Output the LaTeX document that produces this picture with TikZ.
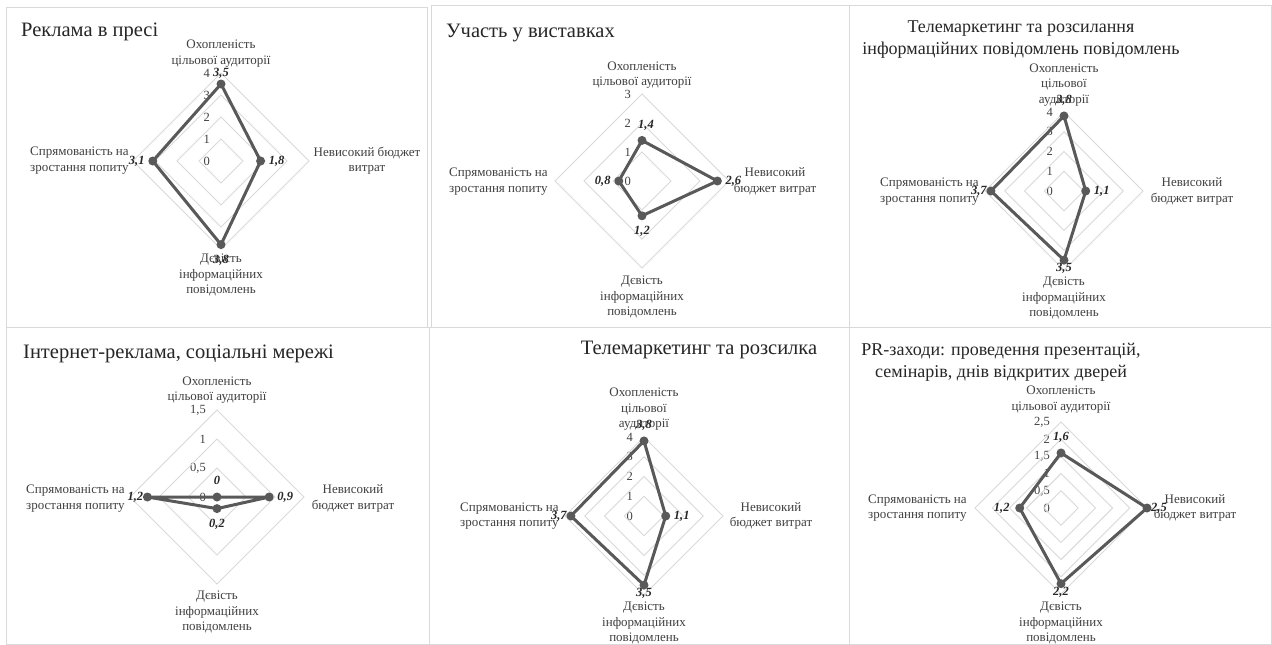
\documentclass[tikz,border=0pt]{standalone}
\usepackage{fontspec}
\setmainfont{Liberation Serif}
\definecolor{gridc}{HTML}{D9D9D9}
\definecolor{serc}{HTML}{595959}
\definecolor{txtc}{HTML}{404040}
\definecolor{datc}{HTML}{262626}
\tikzset{
  panelbox/.style={draw=gridc, line width=0.9pt},
  gridline/.style={draw=gridc, line width=0.9pt},
  tick/.style={anchor=east, inner sep=0pt, font=\fontsize{12.5}{14}\selectfont, text=txtc},
  cat/.style={align=center, inner sep=0pt, font=\fontsize{13}{15.5}\selectfont, text=txtc},
  catl/.style={align=left, anchor=west, inner sep=0pt, font=\fontsize{13}{15.5}\selectfont, text=txtc},
  ttl/.style={inner sep=0pt, font=\fontsize{18}{22}\selectfont, text=datc},
  ttlbig/.style={inner sep=0pt, font=\fontsize{20.5}{24}\selectfont, text=datc},
  ttlw/.style={ttlbig, anchor=west},
  mk/.style={circle, fill=serc, inner sep=0pt, minimum size=9pt},
  series/.style={draw=serc, line width=3pt, line join=round},
  dl/.style={inner sep=0pt, font=\fontsize{12.5}{14}\selectfont\bfseries\itshape, text=datc},
}
\newcommand{\radargrid}[2]{%
  \foreach \v/\t in {#2}{%
    \pgfmathsetmacro{\rr}{\v*#1}
    \ifdim\v pt>0pt \draw[gridline] (0,-\rr) -- (\rr,0) -- (0,\rr) -- (-\rr,0) -- cycle;\fi
    \node[tick] at (-11,-\rr) {\t};
  }}
% #1 prefix, #2 unit, #3 top, #4 right, #5 bottom, #6 left
\newcommand{\radardata}[6]{%
  \node[mk] (#1t) at (0,{-#3*#2}) {};
  \node[mk] (#1r) at ({#4*#2},0) {};
  \node[mk] (#1b) at (0,{#5*#2}) {};
  \node[mk] (#1l) at ({-#6*#2},0) {};
  \draw[series] (#1t.center) -- (#1r.center) -- (#1b.center) -- (#1l.center) -- cycle;
}
\begin{document}
\begin{tikzpicture}[x=1pt, y=-1pt]
\useasboundingbox[fill=white] (0,0) rectangle (1272,645);
% panel frames
\draw[panelbox] (6,7) rectangle (427,327);
\draw[panelbox] (431,5) rectangle (849,327);
\draw[panelbox] (849,5) rectangle (1271,327);
\draw[panelbox] (6,327) rectangle (429,644);
\draw[panelbox] (429,327) rectangle (849,644);
\draw[panelbox] (849,327) rectangle (1271,644);

% ---------- Panel 1 ----------
\node[ttlw] (t1) at (21,32) {Реклама в пресі};
\begin{scope}[shift={(221,161)}]
  \radargrid{22}{0/0,1/1,2/2,3/3,4/4}
  \radardata{a}{22}{3.5}{1.8}{3.8}{3.1}
  \node[dl, anchor=south] (at1) at ([yshift=5pt]at.center) {3,5};
  \node[dl, anchor=west] (ar1) at ([xshift=8pt]ar.center) {1,8};
  \node[dl, anchor=north] (ab1) at ([yshift=-10pt]ab.center) {3,8};
  \node[dl, anchor=east] (al1) at ([xshift=-8pt]al.center) {3,1};
\end{scope}
\node[cat] (c1t) at (221,53.5) {Охопленість\\цільової аудиторії};
\node[cat] (c1r) at (367,160.5) {Невисокий бюджет\\витрат};
\node[catl] (c1l) at (30,160.5) {Спрямованість на\\зростання попиту};
\node[cat] (c1b) at (221,275) {Дєвість\\інформаційних\\повідомлень};

% ---------- Panel 2 ----------
\node[ttlw] (t2) at (446,33) {Участь у виставках};
\begin{scope}[shift={(642,181)}]
  \radargrid{29}{0/0,1/1,2/2,3/3}
  \radardata{b}{29}{1.4}{2.6}{1.2}{0.8}
  \node[dl, anchor=south] (bt1) at ([xshift=4pt,yshift=10pt]bt.center) {1,4};
  \node[dl, anchor=west] (br1) at ([xshift=8pt]br.center) {2,6};
  \node[dl, anchor=north] (bb1) at ([yshift=-10pt]bb.center) {1,2};
  \node[dl, anchor=east] (bl1) at ([xshift=-8pt]bl.center) {0,8};
\end{scope}
\node[cat] (c2t) at (642,75) {Охопленість\\цільової аудиторії};
\node[cat] (c2r) at (775,181.5) {Невисокий\\бюджет витрат};
\node[catl] (c2l) at (449,181.5) {Спрямованість на\\зростання попиту};
\node[cat] (c2b) at (642,297) {Дєвість\\інформаційних\\повідомлень};

% ---------- Panel 3 ----------
\node[ttl, align=center] (t3) at (1021,40) {Телемаркетинг та розсилання\\інформаційних повідомлень повідомлень};
\begin{scope}[shift={(1064,191)}]
  \radargrid{19.75}{0/0,1/1,2/2,3/3,4/4}
  \radardata{c}{19.75}{3.8}{1.1}{3.5}{3.7}
  \node[dl, anchor=south] (ct1) at ([yshift=10pt]ct.center) {3,8};
  \node[dl, anchor=west] (cr1) at ([xshift=8pt]cr.center) {1,1};
  \node[dl, anchor=north] (cb1) at ([yshift=-3pt]cb.center) {3,5};
  \node[dl, anchor=east] (cl1) at ([xshift=-4pt]cl.center) {3,7};
\end{scope}
\node[cat] (c3t) at (1064,85) {Охопленість\\цільової\\аудиторії};
\node[cat] (c3r) at (1192,191.5) {Невисокий\\бюджет витрат};
\node[catl] (c3l) at (880,191.5) {Спрямованість на\\зростання попиту};
\node[cat] (c3b) at (1064,298) {Дєвість\\інформаційних\\повідомлень};

% ---------- Panel 4 ----------
\node[ttlw] (t4) at (23,354) {Інтернет-реклама, соціальні мережі};
\begin{scope}[shift={(217,497)}]
  \radargrid{58}{0/0,0.5/{0,5},1/1,1.5/{1,5}}
  \radardata{d}{58}{0}{0.9}{0.2}{1.2}
  \node[dl, anchor=south] (dt1) at ([yshift=12pt]dt.center) {0};
  \node[dl, anchor=west] (dr1) at ([xshift=8pt]dr.center) {0,9};
  \node[dl, anchor=north] (db1) at ([yshift=-10pt]db.center) {0,2};
  \node[dl, anchor=east] (dl1) at ([xshift=-4pt]dl.center) {1,2};
\end{scope}
\node[cat] (c4t) at (217,390) {Охопленість\\цільової аудиторії};
\node[cat] (c4r) at (353,498.5) {Невисокий\\бюджет витрат};
\node[catl] (c4l) at (26,498.5) {Спрямованість на\\зростання попиту};
\node[cat] (c4b) at (217,612) {Дєвість\\інформаційних\\повідомлень};

% ---------- Panel 5 ----------
\node[ttlbig] (t5) at (699,350) {Телемаркетинг та розсилка};
\begin{scope}[shift={(644,516)}]
  \radargrid{19.75}{0/0,1/1,2/2,3/3,4/4}
  \radardata{e}{19.75}{3.8}{1.1}{3.5}{3.7}
  \node[dl, anchor=south] (et1) at ([yshift=10pt]et.center) {3,8};
  \node[dl, anchor=west] (er1) at ([xshift=8pt]er.center) {1,1};
  \node[dl, anchor=north] (eb1) at ([yshift=-3pt]eb.center) {3,5};
  \node[dl, anchor=east] (el1) at ([xshift=-4pt]el.center) {3,7};
\end{scope}
\node[cat] (c5t) at (644,409.5) {Охопленість\\цільової\\аудиторії};
\node[cat] (c5r) at (771,516) {Невисокий\\бюджет витрат};
\node[catl] (c5l) at (460,516) {Спрямованість на\\зростання попиту};
\node[cat] (c5b) at (644,623) {Дєвість\\інформаційних\\повідомлень};

% ---------- Panel 6 ----------
\node[ttl, align=center] (t6) at (1001,362) {PR-заходи: проведення презентацій,\\семінарів, днів відкритих дверей};
\begin{scope}[shift={(1061,508)}]
  \radargrid{34.4}{0/0,0.5/{0,5},1/1,1.5/{1,5},2/2,2.5/{2,5}}
  \radardata{f}{34.4}{1.6}{2.5}{2.2}{1.2}
  \node[dl, anchor=south] (ft1) at ([yshift=10pt]ft.center) {1,6};
  \node[dl, anchor=west] (fr1) at ([xshift=4pt]fr.center) {2,5};
  \node[dl, anchor=north] (fb1) at ([yshift=-3pt]fb.center) {2,2};
  \node[dl, anchor=east] (fl1) at ([xshift=-10pt]fl.center) {1,2};
\end{scope}
\node[cat] (c6t) at (1061,399.5) {Охопленість\\цільової аудиторії};
\node[cat] (c6r) at (1195,508) {Невисокий\\бюджет витрат};
\node[catl] (c6l) at (868,508) {Спрямованість на\\зростання попиту};
\node[cat] (c6b) at (1061,623) {Дєвість\\інформаційних\\повідомлень};
\end{tikzpicture}
\end{document}
